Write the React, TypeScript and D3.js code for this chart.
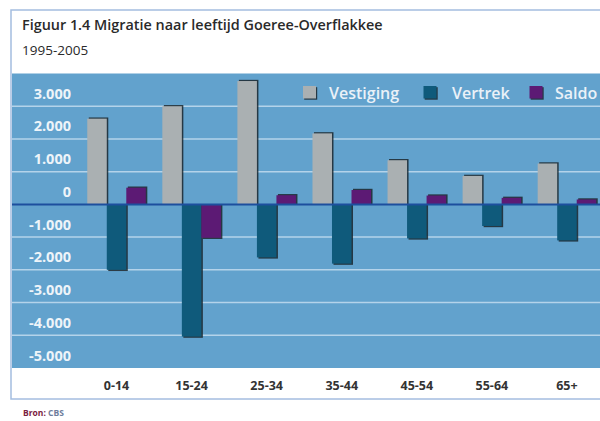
import * as d3 from 'd3';

const ageGroups = ["0-14", "15-24", "25-34", "35-44", "45-54", "55-64", "65+"];
const seriesNames = ["Vestiging", "Vertrek", "Saldo"];
const vestiging = [2620, 3000, 3770, 2170, 1350, 870, 1250];
const vertrek = [-2000, -4040, -1620, -1810, -1040, -660, -1100];
const saldo = [510, -1020, 280, 440, 270, 200, 150];
const yTicks = [3000, 2000, 1000, 0, -1000, -2000, -3000, -4000, -5000];
const seriesColors = ["#aab0b2", "#0f5a7b", "#5c1a74"];

const W = 600;
const H = 421;

const nl = d3.formatLocale({ decimal: ",", thousands: ".", grouping: [3], currency: ["€", ""], minus: "-" });
const fmt = nl.format(",d");

export default function App() {
  const values = [vestiging, vertrek, saldo];
  const bars = ageGroups.flatMap((g, i) =>
    seriesNames.map((s, j) => ({ group: g, series: s, value: values[j][i], color: seriesColors[j] }))
  );

  const y = d3.scaleLinear().domain([-5000, 4000]).range([368, 73.5]);
  const x0 = d3.scaleBand().domain(ageGroups).range([79, 79 + 7 * 75.07]).paddingInner(0.22).paddingOuter(0.11);
  const x1 = d3.scaleBand().domain(seriesNames).range([0, x0.bandwidth()]);

  const plotLeft = 12;
  const legend = [
    { name: "Vestiging", box: 303, text: 329 },
    { name: "Vertrek", box: 423.5, text: 452 },
    { name: "Saldo", box: 529.5, text: 555 },
  ];

  return (
    <svg width={W} height={H} style={{ position: 'absolute', left: 0, top: 0, background: '#fff' }}>
      {/* frame */}
      <rect x={11} y={10} width={620} height={389} fill="#fff" stroke="#a4bde0" strokeWidth={1.5} />
      <text x={22} y={30} fontFamily="Open Sans" fontSize={14.4} fontWeight={600} fill="#2a2a2a">
        Figuur 1.4 Migratie naar leeftijd Goeree-Overflakkee
      </text>
      <text x={22} y={55} fontFamily="Open Sans" fontSize={13.5} fill="#2a2a2a">1995-2005</text>

      {/* plot area */}
      <rect x={plotLeft} y={y(4000)} width={W - plotLeft} height={y(-5000) - y(4000)} fill="#62a2cd" />
      {yTicks.filter(t => t !== 0 && t !== -5000).map(t => (
        <line key={t} x1={plotLeft} x2={W} y1={y(t)} y2={y(t)} stroke="#b4d3ea" strokeWidth={1.5} />
      ))}
      {yTicks.map(t => (
        <text key={t} x={71} y={y(t) - 7.5} textAnchor="end" fontFamily="Open Sans" fontSize={14.5}
          fontWeight={700} fill="#eef4f9">{fmt(t)}</text>
      ))}

      {/* bars */}
      {bars.map(d => {
        const bx = x0(d.group)! + x1(d.series)!;
        const w = x1.bandwidth();
        const top = Math.min(y(d.value), y(0));
        const h = Math.abs(y(d.value) - y(0));
        const pos = d.value >= 0;
        return (
          <g key={d.group + d.series}>
            <rect x={bx + 1.5} y={pos ? top - 1.2 : top} width={w} height={h + 1.2} fill="#1b262c" opacity={0.85} />
            <rect x={bx} y={top} width={w} height={h} fill={d.color} />
          </g>
        );
      })}
      <line x1={plotLeft} x2={W} y1={y(0)} y2={y(0)} stroke="#1d4f9e" strokeWidth={2} />

      {/* legend */}
      {legend.map((l, i) => (
        <g key={l.name}>
          <rect x={l.box + 1.2} y={87.2} width={13} height={12.5} fill="#1b262c" opacity={0.85} />
          <rect x={l.box} y={86} width={13} height={12.5} fill={seriesColors[i]} />
          <text x={l.text} y={98.5} fontFamily="Open Sans" fontSize={16} fontWeight={600} fill="#eaf1f8">{l.name}</text>
        </g>
      ))}

      {/* category labels */}
      {ageGroups.map(g => (
        <text key={g} x={x0(g)! + x0.bandwidth() / 2} y={390} textAnchor="middle" fontFamily="Open Sans"
          fontSize={12.5} fontWeight={700} fill="#333">{g}</text>
      ))}

      <text x={23} y={416} fontFamily="Open Sans" fontSize={8.5} fontWeight={700}>
        <tspan fill="#7a2140">Bron: </tspan><tspan fill="#6d7d9c">CBS</tspan>
      </text>
    </svg>
  );
}
